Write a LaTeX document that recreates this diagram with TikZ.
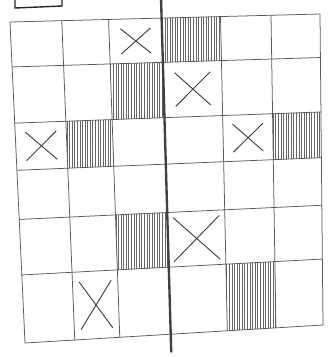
\documentclass[tikz,border=0pt]{standalone}
\usepackage{tikz}
\usetikzlibrary{patterns, patterns.meta, calc}

\begin{document}
\begin{tikzpicture}[x=0.03cm, y=-0.03cm, line cap=round,
    gridline/.style={draw=black!65, line width=0.65pt},
    midline/.style={draw=black!75, line width=2pt},
    cross/.style={draw=black!75, line width=0.8pt},
    hatched/.style={pattern={Lines[angle=90, distance=2.2pt, line width=0.65pt]}, pattern color=black!60}]
    \useasboundingbox (0,0) rectangle (327,357);

    % Ecken des Rasters
    \coordinate (TL) at (10,22);
    \coordinate (TR) at (320,14);
    \coordinate (BL) at (25,343);
    \coordinate (BR) at (323,325);

    % Gitterpunkte
    \foreach \r/\fr in {0/0, 1/0.14, 2/0.315, 3/0.462, 4/0.615, 5/0.788, 6/1}
      \foreach \c/\fc in {0/0, 1/0.167, 2/0.318, 3/0.489, 4/0.679, 5/0.842, 6/1}
        \coordinate (g-\r-\c) at ($ ($(TL)!\fr!(BL)$) !\fc! ($(TR)!\fr!(BR)$) $);

    % schraffierte Felder
    \foreach \r/\c [evaluate=\r as \rr using int(\r+1), evaluate=\c as \cc using int(\c+1)]
      in {0/3, 1/2, 2/1, 2/5, 4/2, 5/4}
      \fill[hatched] (g-\r-\c) -- (g-\r-\cc) -- (g-\rr-\cc) -- (g-\rr-\c) -- cycle;

    % Raster
    \foreach \i in {0,...,6} {
      \draw[gridline] (g-\i-0) -- (g-\i-6);
      \draw[gridline] (g-0-\i) -- (g-6-\i);
    }

    % Mittellinie
    \draw[midline, shorten <=-16pt, shorten >=-15pt] (g-0-3) -- (g-6-3);

    % Kreuze
    \foreach \r/\c/\a [evaluate=\r as \rr using int(\r+1), evaluate=\c as \cc using int(\c+1),
      evaluate=\a as \b using 1-\a] in {0/2/0.22, 1/3/0.2, 2/0/0.2, 2/4/0.2, 4/3/0.1, 5/1/0.15} {
      \draw[cross] ($(g-\r-\c)!\a!(g-\rr-\cc)$) -- ($(g-\r-\c)!\b!(g-\rr-\cc)$);
      \draw[cross] ($(g-\r-\cc)!\a!(g-\rr-\c)$) -- ($(g-\r-\cc)!\b!(g-\rr-\c)$);
    }

    % Kästchen oben links
    \draw[black!85, line width=1.2pt] (15,-2) -- (15,8) -- (62,6) -- (62,-2);
\end{tikzpicture}
\end{document}
